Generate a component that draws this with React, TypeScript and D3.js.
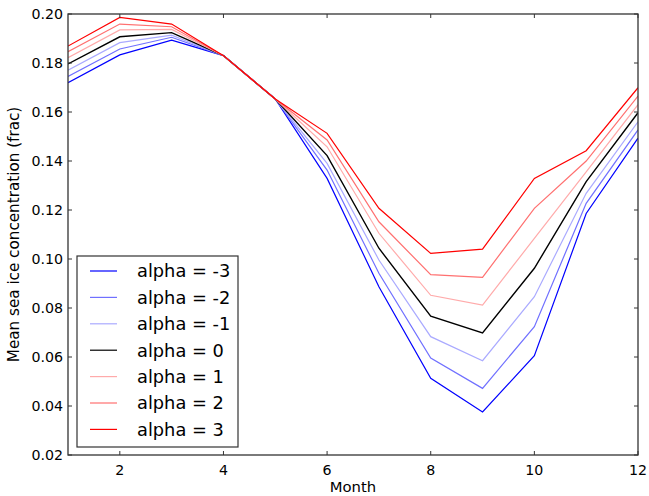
import React from "react";
import * as d3 from "d3";

const months = [1, 2, 3, 4, 5, 6, 7, 8, 9, 10, 11, 12];
const alphas = [-3, -2, -1, 0, 1, 2, 3];
const seriesColors = ["#0000ff", "#7070ff", "#aaaaff", "#000000", "#ffaaaa", "#ff7070", "#ff0000"];

const valsM3 = [0.1720, 0.1833, 0.1893, 0.1830, 0.1653, 0.1329, 0.0887, 0.0513, 0.0376, 0.0605, 0.1186, 0.1493];
const valsM2 = [0.1745, 0.1857, 0.1905, 0.1830, 0.1653, 0.1363, 0.0942, 0.0596, 0.0472, 0.0724, 0.1227, 0.1527];
const valsM1 = [0.1771, 0.1883, 0.1914, 0.1830, 0.1653, 0.1390, 0.0996, 0.0683, 0.0585, 0.0846, 0.1268, 0.1560];
const vals0 = [0.1796, 0.1907, 0.1924, 0.1830, 0.1653, 0.1422, 0.1044, 0.0767, 0.0698, 0.0962, 0.1316, 0.1597];
const valsP1 = [0.1822, 0.1935, 0.1937, 0.1830, 0.1653, 0.1458, 0.1105, 0.0852, 0.0812, 0.1084, 0.1356, 0.1630];
const valsP2 = [0.1846, 0.1959, 0.1948, 0.1830, 0.1653, 0.1486, 0.1152, 0.0936, 0.0925, 0.1207, 0.1400, 0.1665];
const valsP3 = [0.1869, 0.1986, 0.1959, 0.1830, 0.1653, 0.1513, 0.1207, 0.1023, 0.1040, 0.1329, 0.1442, 0.1699];
const seriesValues = [valsM3, valsM2, valsM1, vals0, valsP1, valsP2, valsP3];

const xTicks = [2, 4, 6, 8, 10, 12];
const yTicks = [0.02, 0.04, 0.06, 0.08, 0.10, 0.12, 0.14, 0.16, 0.18, 0.20];

const W = 649;
const H = 496;
const left = 68;
const right = 638;
const top = 14;
const bottom = 455;

export default function App() {
  const x = d3.scaleLinear().domain([1, 12]).range([left, right]);
  const y = d3.scaleLinear().domain([0.02, 0.2]).range([bottom, top]);
  const line = d3
    .line<number>()
    .x((_, i) => x(months[i]))
    .y((d) => y(d));
  const font = "DejaVu Sans, sans-serif";
  const spine = "#333";
  const tl = 4;
  const legX = 77, legY = 256, legW = 161, legH = 191;
  const rowY0 = 271, rowStep = 26.4;
  return (
    <svg
      width={W}
      height={H}
      style={{ position: "absolute", left: 0, top: 0, background: "#fff" }}
      fontFamily={font}
    >
      <rect x={0} y={0} width={W} height={H} fill="#fff" />
      <defs>
        <clipPath id="plotclip">
          <rect x={left} y={top} width={right - left} height={bottom - top} />
        </clipPath>
      </defs>
      <g clipPath="url(#plotclip)">
        {seriesValues.map((vals, k) => (
          <path
            key={k}
            d={line(vals) || ""}
            fill="none"
            stroke={seriesColors[k]}
            strokeWidth={k === 3 ? 1.4 : 1.2}
            strokeLinejoin="miter"
          />
        ))}
      </g>
      {xTicks.map((t) => (
        <g key={"xt" + t}>
          <line x1={x(t)} x2={x(t)} y1={bottom} y2={bottom - tl} stroke={spine} strokeWidth={1} />
          <line x1={x(t)} x2={x(t)} y1={top} y2={top + tl} stroke={spine} strokeWidth={1} />
          <text x={x(t)} y={bottom + 20} textAnchor="middle" fontSize={14.2} fill="#000">
            {t}
          </text>
        </g>
      ))}
      {yTicks.map((t) => (
        <g key={"yt" + t}>
          <line x1={left} x2={left + tl} y1={y(t)} y2={y(t)} stroke={spine} strokeWidth={1} />
          <line x1={right} x2={right - tl} y1={y(t)} y2={y(t)} stroke={spine} strokeWidth={1} />
          <text x={left - 5} y={y(t)} dy="0.36em" textAnchor="end" fontSize={14.2} fill="#000">
            {t.toFixed(2)}
          </text>
        </g>
      ))}
      <rect
        x={left}
        y={top}
        width={right - left}
        height={bottom - top}
        fill="none"
        stroke={spine}
        strokeWidth={1.3}
      />
      <text x={(left + right) / 2} y={H - 4} textAnchor="middle" fontSize={14.8} fill="#000">
        Month
      </text>
      <text
        transform={`translate(${19},${(top + bottom) / 2}) rotate(-90)`}
        textAnchor="middle"
        fontSize={15.2}
        fill="#000"
      >
        Mean sea ice concentration (frac)
      </text>
      <rect x={legX} y={legY} width={legW} height={legH} fill="#fff" stroke={spine} strokeWidth={1.2} />
      {alphas.map((a, k) => (
        <g key={"lg" + a}>
          <line
            x1={90}
            x2={117}
            y1={rowY0 + k * rowStep}
            y2={rowY0 + k * rowStep}
            stroke={seriesColors[k]}
            strokeWidth={1.2}
          />
          <text x={137} y={rowY0 + k * rowStep} dy="0.36em" fontSize={17.8} fill="#000">
            {`alpha = ${a}`}
          </text>
        </g>
      ))}
    </svg>
  );
}
